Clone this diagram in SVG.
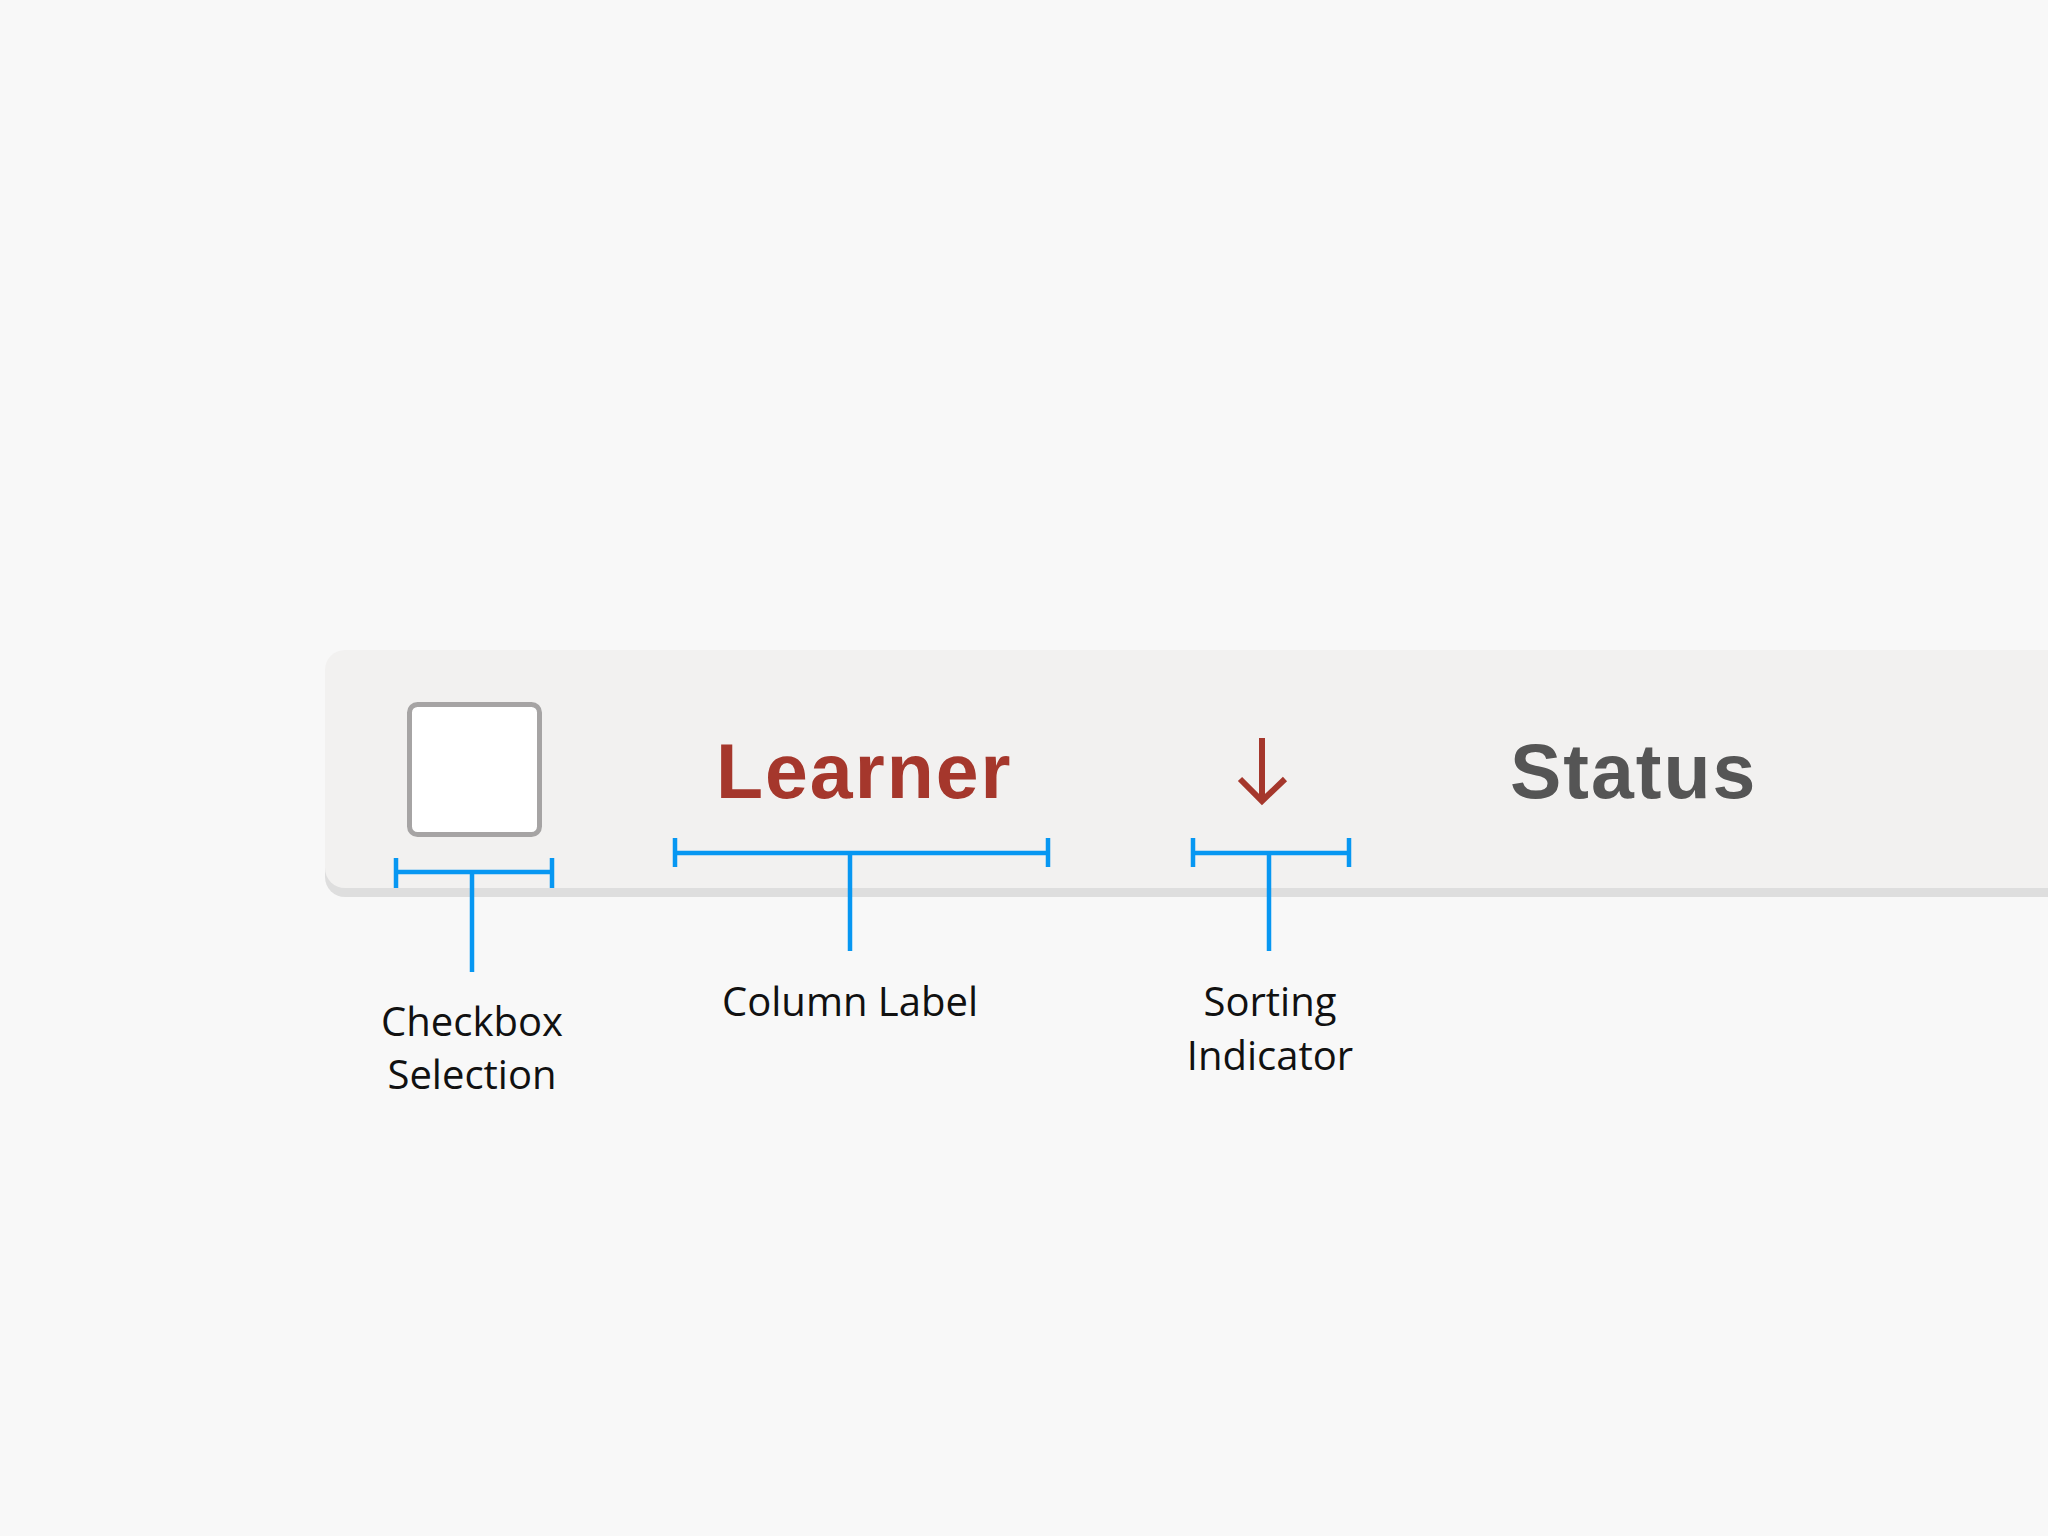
<svg xmlns="http://www.w3.org/2000/svg" width="2048" height="1536" viewBox="0 0 2048 1536">
  <style>
    .ann { fill: #111111; font-family: "Open Sans", "Noto Sans", "DejaVu Sans", sans-serif; font-size: 40px; text-anchor: middle; }
    .hdr { font-family: "Liberation Sans", Arial, Helvetica, sans-serif; font-weight: bold; font-size: 77px; letter-spacing: 2px; }
    .brk { stroke: #0797f2; stroke-width: 4.5; fill: none; stroke-linecap: butt; }
  </style>
  <rect x="0" y="0" width="2048" height="1536" fill="#f8f8f8"/>

  <g id="header-bar">
    <rect x="325" y="657" width="1800" height="240" rx="20" fill="#dedede"/>
    <rect x="325" y="650" width="1800" height="238" rx="20" fill="#f2f1f0"/>
  </g>

  <g id="checkbox">
    <rect x="409.5" y="704.5" width="130" height="130" rx="8" fill="#ffffff" stroke="#a6a4a4" stroke-width="5"/>
  </g>

  <g id="column-label-learner">
    <text class="hdr" x="716" y="798" fill="#a5372c">Learner</text>
  </g>

  <g id="sorting-indicator">
    <path d="M1262 738 V800 M1240 779 L1262 801 L1285 779" fill="none" stroke="#a5372c" stroke-width="6"/>
  </g>

  <g id="column-label-status">
    <text class="hdr" x="1510" y="798" fill="#555555">Status</text>
  </g>

  <g id="connectors">
    <g id="bracket-checkbox">
      <path class="brk" d="M396 872 H552 M396 858 V888 M552 858 V888 M472 872 V972"/>
    </g>
    <g id="bracket-learner">
      <path class="brk" d="M675 853 H1048 M675 838 V867 M1048 838 V867 M850 853 V951"/>
    </g>
    <g id="bracket-sorting">
      <path class="brk" d="M1193 853 H1349 M1193 838 V867 M1349 838 V867 M1269 853 V951"/>
    </g>
  </g>

  <g id="label-checkbox-selection">
    <text class="ann" x="472" y="1036">Checkbox</text>
    <text class="ann" x="472" y="1089">Selection</text>
  </g>
  <g id="label-column-label">
    <text class="ann" x="850" y="1016">Column Label</text>
  </g>
  <g id="label-sorting-indicator">
    <text class="ann" x="1270" y="1016">Sorting</text>
    <text class="ann" x="1270" y="1070">Indicator</text>
  </g>
</svg>
